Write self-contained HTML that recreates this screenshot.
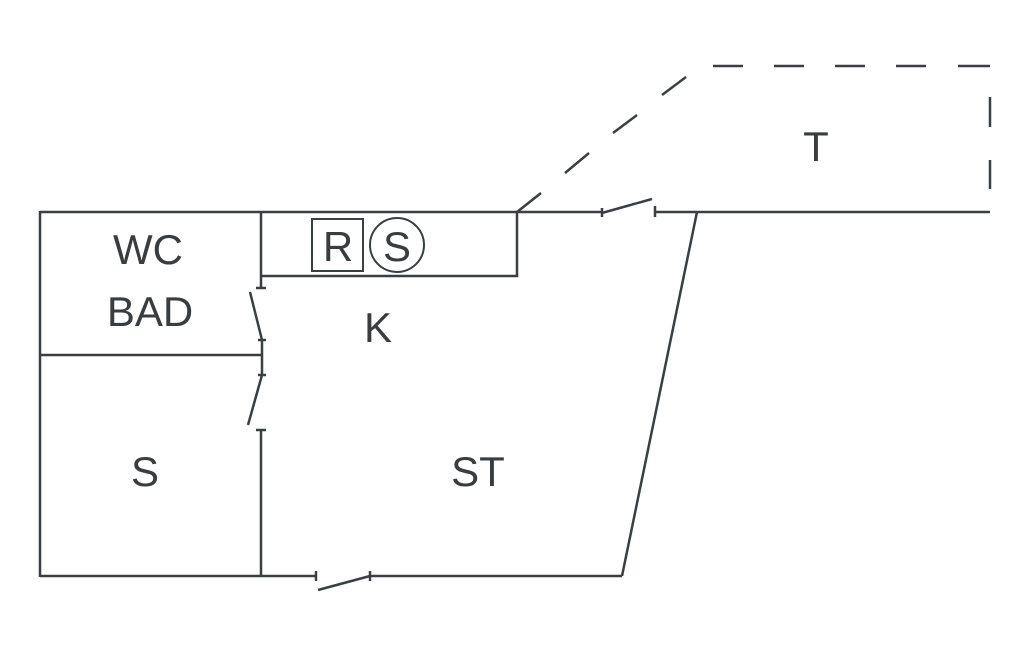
<!DOCTYPE html>
<html><head><meta charset="utf-8"><style>
html,body{margin:0;padding:0;background:#fff;width:1024px;height:652px;overflow:hidden}
text{font-family:"Liberation Sans","DejaVu Sans",sans-serif;fill:#3a3d40;font-size:42px;text-anchor:middle}
</style></head><body>
<svg width="1024" height="652" viewBox="0 0 1024 652" xmlns="http://www.w3.org/2000/svg">
<g stroke="#3a3f42" stroke-width="2.5" fill="none" stroke-linecap="butt">
<!-- top wall -->
<line x1="40" y1="212" x2="602" y2="212"/>
<line x1="655" y1="212" x2="990" y2="212"/>
<!-- top door -->
<line x1="602" y1="213" x2="652" y2="199"/>
<line x1="602" y1="208" x2="602" y2="217"/>
<line x1="655" y1="206" x2="655" y2="217"/>
<!-- left wall -->
<line x1="40" y1="211" x2="40" y2="577"/>
<!-- WC/S divider -->
<line x1="40" y1="355" x2="261" y2="355"/>
<!-- partition -->
<line x1="261" y1="212" x2="261" y2="288"/>
<line x1="256" y1="288" x2="266" y2="288"/>
<line x1="250" y1="292" x2="262" y2="340"/>
<line x1="262" y1="340" x2="262" y2="375"/>
<line x1="258" y1="340" x2="266" y2="340"/>
<line x1="258" y1="375" x2="266" y2="375"/>
<line x1="262" y1="375" x2="248" y2="425"/>
<line x1="261" y1="430" x2="261" y2="576"/>
<line x1="256" y1="430" x2="266" y2="430"/>
<!-- cabinet -->
<polyline points="261,276 517,276 517,212"/>
<rect x="312" y="219" width="51" height="52" stroke-width="2"/>
<circle cx="397" cy="245" r="27" stroke-width="2"/>
<!-- bottom wall -->
<line x1="40" y1="576" x2="316" y2="576"/>
<line x1="316" y1="571" x2="316" y2="581"/>
<line x1="318" y1="590" x2="370" y2="576"/>
<line x1="370" y1="571" x2="370" y2="581"/>
<line x1="370" y1="576" x2="622" y2="576"/>
<!-- right diagonal -->
<line x1="697" y1="212" x2="622" y2="576"/>
<!-- dashed terrace -->
<line x1="517" y1="212" x2="541" y2="193"/>
<line x1="565" y1="173" x2="589" y2="153"/>
<line x1="613" y1="133" x2="637" y2="115"/>
<line x1="662" y1="95" x2="686" y2="77"/>
<line x1="713" y1="66" x2="743" y2="66"/>
<line x1="774" y1="66" x2="804" y2="66"/>
<line x1="835" y1="66" x2="865" y2="66"/>
<line x1="896" y1="66" x2="926" y2="66"/>
<line x1="958" y1="66" x2="990" y2="66"/>
<line x1="990" y1="97" x2="990" y2="127"/>
<line x1="990" y1="160" x2="990" y2="189"/>
</g>
<text x="148" y="264">WC</text>
<text x="150" y="326">BAD</text>
<text x="378" y="342">K</text>
<text x="338" y="261">R</text>
<text x="397" y="261">S</text>
<text x="145" y="486">S</text>
<text x="478" y="486">ST</text>
<text x="816" y="161">T</text>
</svg>
</body></html>
